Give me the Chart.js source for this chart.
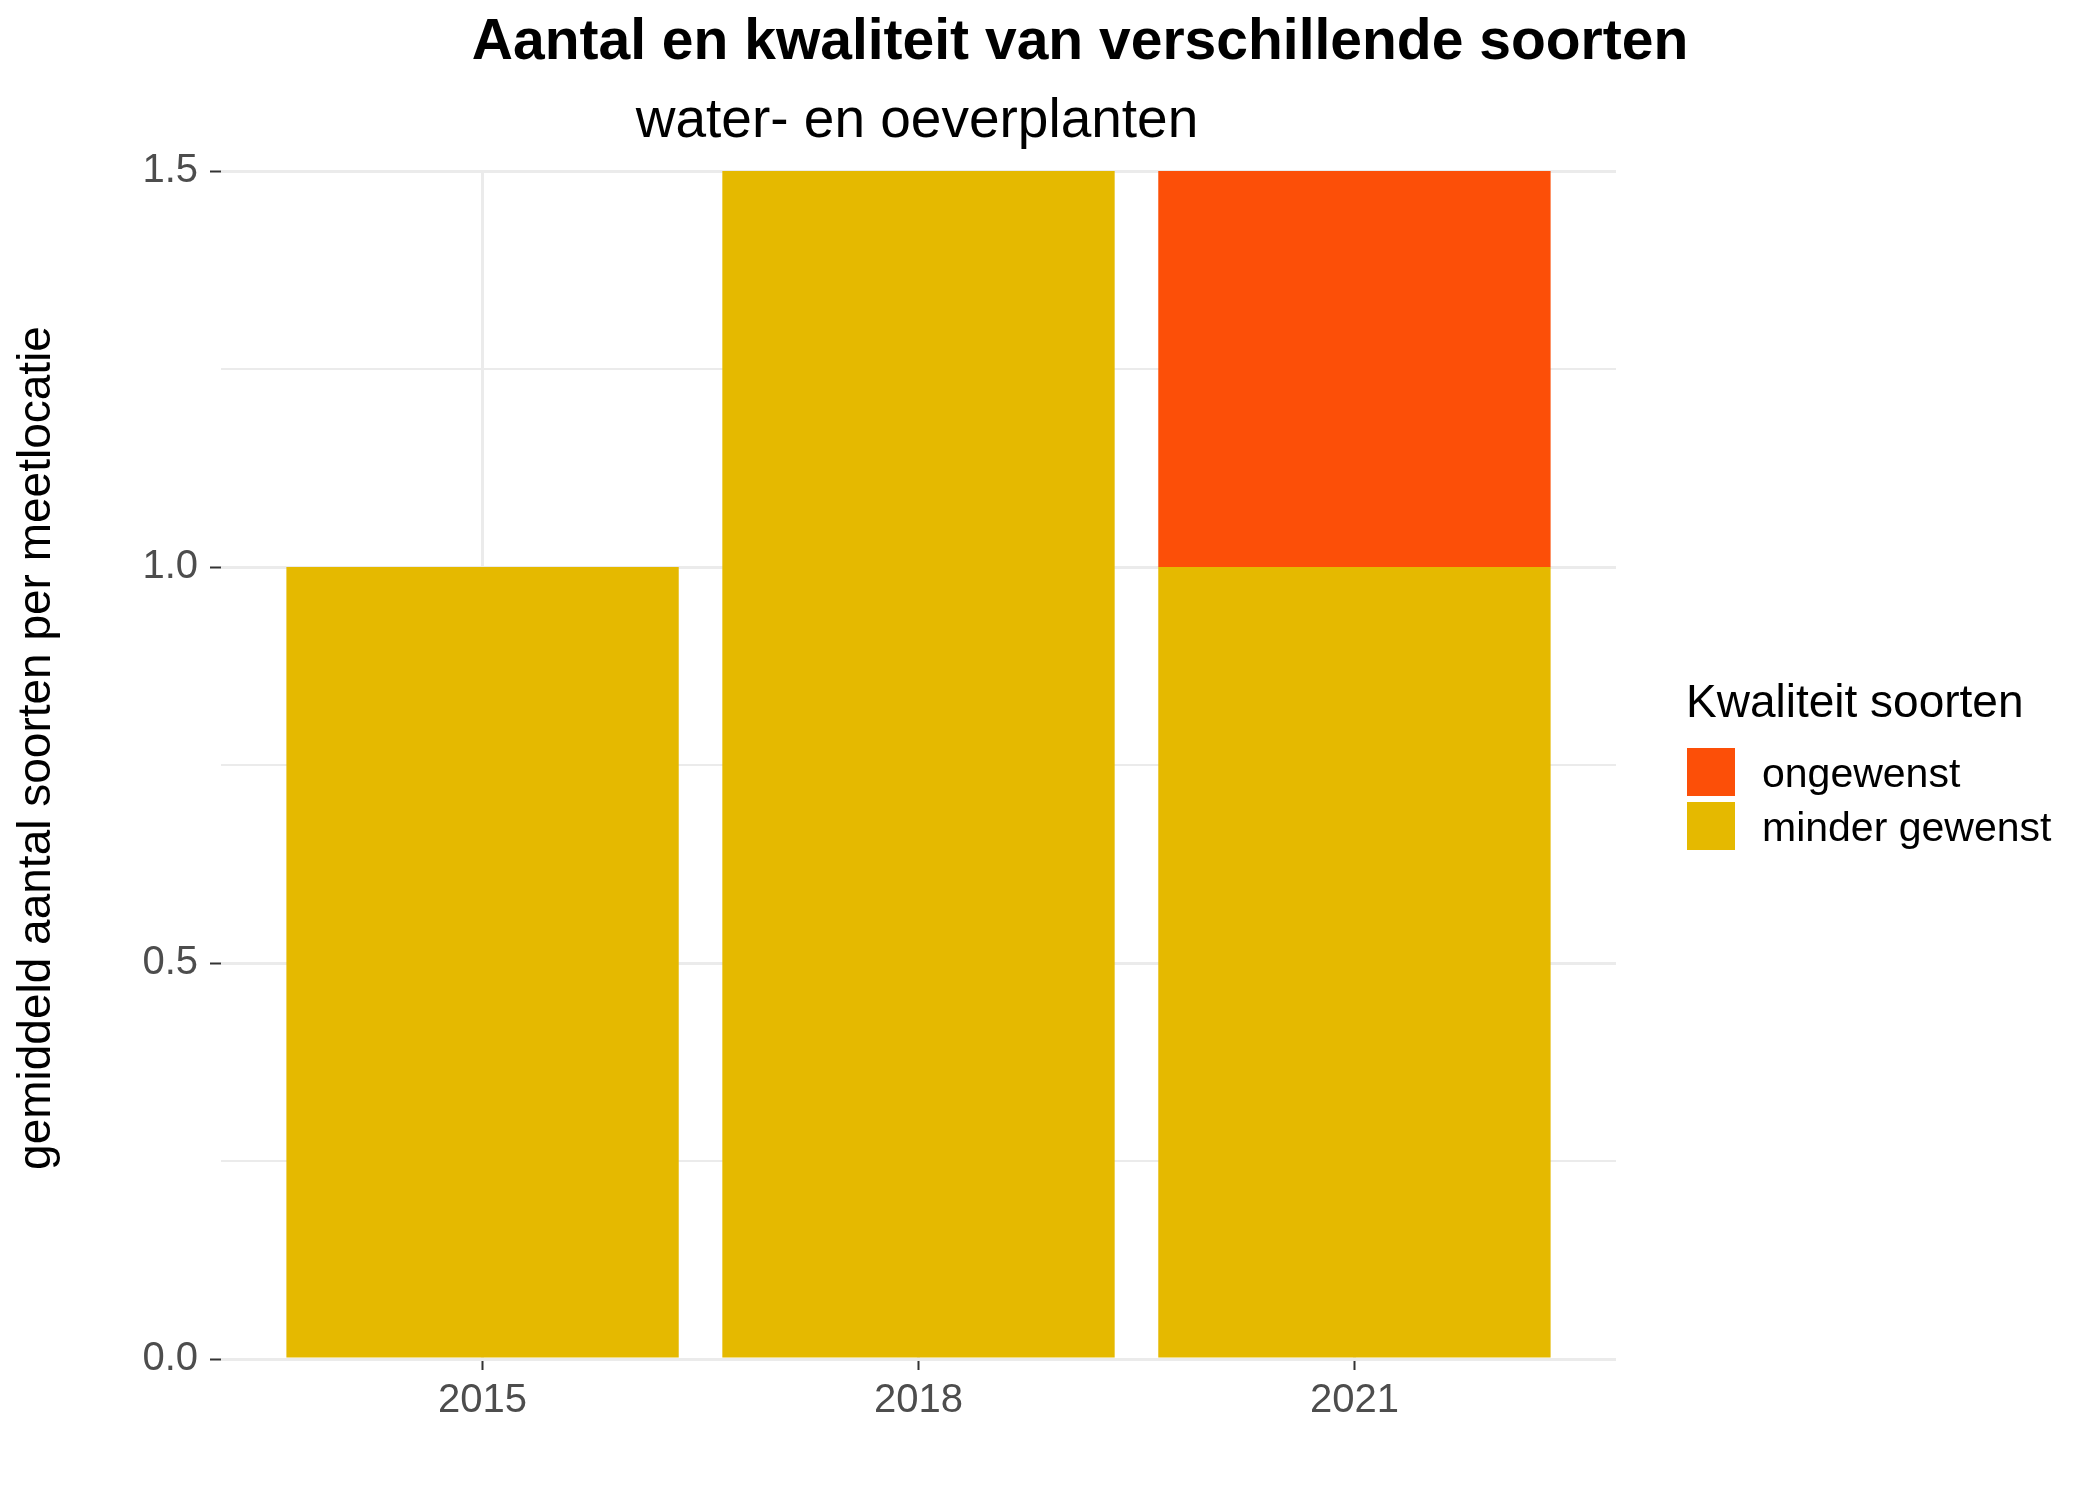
<!DOCTYPE html>
<html>
<head>
<meta charset="utf-8">
<script src="https://cdn.jsdelivr.net/npm/chart.js@4/dist/chart.umd.min.js"></script>
<style>
  html, body { margin: 0; padding: 0; background: #ffffff; }
  #wrap { width: 2100px; height: 1500px; }
</style>
</head>
<body>
<div id="wrap"><canvas id="barChart" width="2100" height="1500"></canvas></div>
<script>
// chart data
const years = ['2015', '2018', '2021'];
const minderGewenst = [1.0, 1.5, 1.0];
const ongewenst = [0.0, 0.0, 0.5];
const yTicks = [0.0, 0.5, 1.0, 1.5];

const FONT = '"Liberation Sans", Arial, sans-serif';
const YELLOW = '#E5B900';
const ORANGE = '#FC4F08';
const GRID = '#EBEBEB';

const isMajor = v => Math.abs(v * 2 - Math.round(v * 2)) < 1e-9;

// titles, y-axis title and legend drawn on top, ggplot style
const textPlugin = {
    id: 'textPlugin',
    afterDraw(chart) {
        const ctx = chart.ctx;
        ctx.save();
        ctx.fillStyle = '#000000';
        ctx.textBaseline = 'alphabetic';

        ctx.textAlign = 'center';
        ctx.font = 'bold 57px ' + FONT;
        ctx.fillText('Aantal en kwaliteit van verschillende soorten', 1080, 59);
        ctx.font = '55px ' + FONT;
        ctx.fillText('water- en oeverplanten', 917, 137);

        ctx.save();
        ctx.translate(50, 748);
        ctx.rotate(-Math.PI / 2);
        ctx.font = '46px ' + FONT;
        ctx.fillText('gemiddeld aantal soorten per meetlocatie', 0, 0);
        ctx.restore();

        // legend
        ctx.textAlign = 'left';
        ctx.font = '46px ' + FONT;
        ctx.fillText('Kwaliteit soorten', 1686, 717);
        const items = [chart.data.datasets[1], chart.data.datasets[0]];
        ctx.font = '41px ' + FONT;
        items.forEach((ds, i) => {
            const top = 748 + i * 54;
            ctx.fillStyle = ds.backgroundColor;
            ctx.fillRect(1687, top, 48, 48);
            ctx.fillStyle = '#000000';
            ctx.fillText(ds.label, 1762, top + 39);
        });
        ctx.restore();
    }
};

const barCtx = document.getElementById('barChart').getContext('2d');

const barData = {
    datasets: [{
        label: 'minder gewenst',
        data: years.map((yr, i) => ({ x: i + 1, y: minderGewenst[i] })),
        backgroundColor: YELLOW,
        borderWidth: 0,
        barPercentage: 0.9,
        categoryPercentage: 1.0
    }, {
        label: 'ongewenst',
        data: years.map((yr, i) => ({ x: i + 1, y: ongewenst[i] })),
        backgroundColor: ORANGE,
        borderWidth: 0,
        barPercentage: 0.9,
        categoryPercentage: 1.0
    }]
};

const barConfig = {
    type: 'bar',
    data: barData,
    options: {
        responsive: false,
        animation: false,
        devicePixelRatio: 1,
        layout: {
            padding: { left: 0, right: 484, top: 171, bottom: 0 }
        },
        plugins: {
            legend: { display: false },
            title: { display: false },
            tooltip: { enabled: false }
        },
        scales: {
            x: {
                type: 'linear',
                stacked: true,
                offset: false,
                min: 0.4,
                max: 3.6,
                afterBuildTicks: axis => {
                    axis.ticks = years.map((yr, i) => ({ value: i + 1 }));
                },
                afterFit: axis => { axis.height = 141; },
                border: { display: false },
                grid: {
                    offset: false,
                    color: GRID,
                    lineWidth: 3,
                    drawTicks: true,
                    tickLength: 11,
                    tickColor: '#333333',
                    tickWidth: 2
                },
                ticks: {
                    autoSkip: false,
                    maxRotation: 0,
                    padding: 7,
                    color: '#4D4D4D',
                    font: { family: FONT, size: 40 },
                    callback: value => years[Math.round(value) - 1]
                }
            },
            y: {
                stacked: true,
                min: 0,
                max: 1.5,
                afterFit: axis => { axis.width = 221; },
                border: { display: false },
                grid: {
                    color: GRID,
                    lineWidth: c => isMajor(c.tick.value) ? 3 : 2,
                    drawTicks: true,
                    tickLength: 11,
                    tickColor: c => isMajor(c.tick.value) ? '#333333' : 'rgba(0,0,0,0)',
                    tickWidth: 2
                },
                ticks: {
                    stepSize: 0.25,
                    padding: 12,
                    color: '#4D4D4D',
                    font: { family: FONT, size: 40 },
                    callback: value => yTicks.some(t => Math.abs(t - value) < 1e-9) ? value.toFixed(1) : ''
                }
            }
        }
    },
    plugins: [textPlugin]
};

new Chart(barCtx, barConfig);
</script>
</body>
</html>
